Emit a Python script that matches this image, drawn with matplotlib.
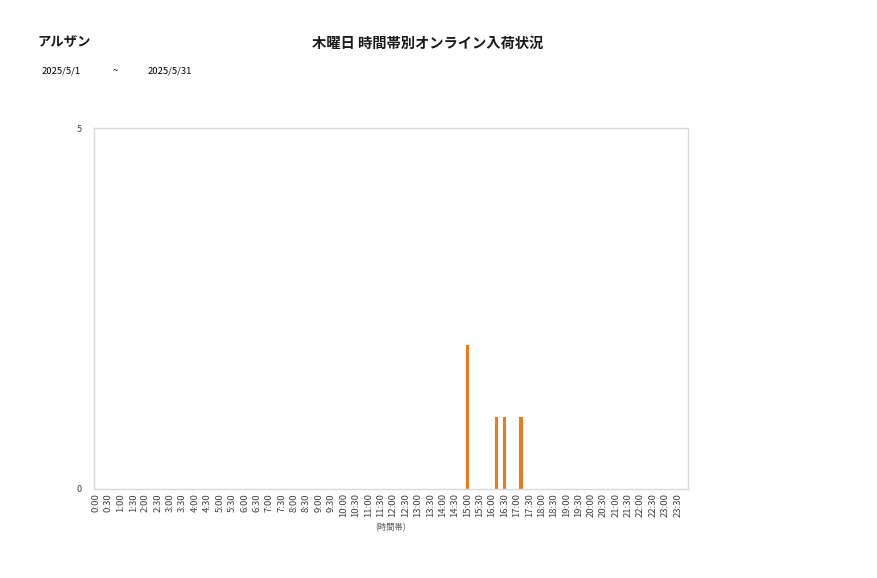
import matplotlib
matplotlib.use("Agg")
import matplotlib.pyplot as plt

plt.rcParams['font.family'] = ['Noto Sans CJK JP', 'DejaVu Sans']

# 10-minute slots over the day
slots = [f"{h}:{m:02d}" for h in range(24) for m in range(0, 60, 10)]
counts = {"15:00": 2, "16:10": 1, "16:30": 1, "17:10": 1}
values = [counts.get(s, 0) for s in slots]
tick_labels = [s for s in slots if s.endswith(":00") or s.endswith(":30")]

title = "木曜日 時間帯別オンライン入荷状況"
store = "アルザン"
date_from = "2025/5/1"
date_to = "2025/5/31"

fig = plt.figure(figsize=(8.77, 5.78), dpi=100)
ax = fig.add_axes([94/877, 1-489/578, (688-94)/877, (489-128)/578])

x = list(range(len(slots)))
ax.bar(x, values, width=0.8, color="#F07818")
ax.set_xlim(-0.5, len(slots)-0.5)
ax.set_ylim(0, 5)
ax.set_yticks([0, 5])
ax.set_yticklabels(["0", "5"], fontsize=6.5, color="#404040")
tick_pos = [i for i, s in enumerate(slots) if s in tick_labels]
ax.set_xticks(tick_pos)
ax.set_xticklabels(tick_labels, rotation=90, fontsize=6.8, color="#404040")
ax.tick_params(axis='x', length=0, pad=3)
ax.tick_params(axis='y', length=0, pad=9)
for sp in ax.spines.values():
    sp.set_color("#d9d9d9")
    sp.set_linewidth(1.0)

fig.text(391/877, 1-528/578, "(時間帯)", fontsize=6, color="#595959", ha="center", va="center")
fig.text(428/877, 1-44/578, title, fontsize=10.3, fontweight="bold", ha="center", va="center", color="#1a1a1a")
fig.text(37/877, 1-43/578, store, fontsize=9.6, fontweight="bold", ha="left", va="center", color="#1a1a1a")
fig.text(42/877, 1-71/578, date_from, fontsize=6.8, ha="left", va="center")
fig.text(115/877, 1-71/578, "~", fontsize=6.8, ha="center", va="center")
fig.text(148/877, 1-71/578, date_to, fontsize=6.8, ha="left", va="center")

fig.savefig("out.png", dpi=100, facecolor="white")
